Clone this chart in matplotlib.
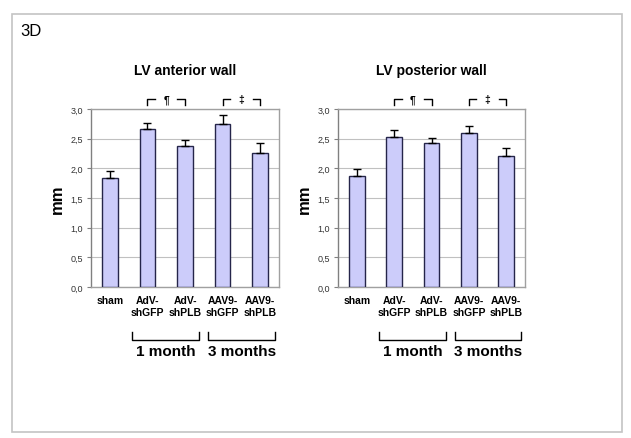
import matplotlib.pyplot as plt
from matplotlib.patches import Rectangle

plt.rcParams['font.family'] = ['Liberation Sans', 'DejaVu Sans']

groups = ['sham', 'AdV-\nshGFP', 'AdV-\nshPLB', 'AAV9-\nshGFP', 'AAV9-\nshPLB']
anterior = [1.83, 2.66, 2.37, 2.74, 2.26]
anterior_err = [0.12, 0.11, 0.11, 0.16, 0.17]
posterior = [1.87, 2.52, 2.43, 2.60, 2.20]
posterior_err = [0.12, 0.12, 0.08, 0.12, 0.14]
yticks = [0.0, 0.5, 1.0, 1.5, 2.0, 2.5, 3.0]
ytick_labels = ['0,0', '0,5', '1,0', '1,5', '2,0', '2,5', '3,0']
periods = ['1 month', '3 months']
sig_marks = ['¶', '‡']

W, H = 631, 439
fig = plt.figure(figsize=(W / 100, H / 100), dpi=100)
fig.patches.append(Rectangle((12 / W, 1 - 433 / H), 610 / W, 418 / H,
                             transform=fig.transFigure, fill=False,
                             edgecolor='#c4c4c4', lw=1.2))
fig.text(20 / W, 1 - 32 / H, '3D', fontsize=12, ha='left', va='center')


def panel(left, width, vals, errs, title):
    ax = fig.add_axes([left / W, 1 - 288 / H, width / W, 178 / H])
    x = list(range(len(groups)))
    ax.bar(x, vals, width=0.42, color='#ccccfa', edgecolor='#25254a', lw=1,
           yerr=[[0] * len(errs), errs], capsize=3,
           error_kw=dict(ecolor='black', elinewidth=1, capthick=1), zorder=3)
    ax.set_xlim(-0.5, 4.5)
    ax.set_ylim(0, 3)
    ax.set_yticks(yticks)
    ax.set_yticklabels(ytick_labels, fontsize=6.5, color='#333333')
    ax.set_xticks(x)
    ax.set_xticklabels(groups, fontsize=7.5, fontweight='bold', linespacing=1.15)
    ax.tick_params(axis='x', length=0, pad=6)
    ax.tick_params(axis='y', length=3, width=0.8, color='#808080', pad=3)
    ax.yaxis.grid(True, color='#c0c0c0', lw=0.8)
    ax.set_axisbelow(True)
    for s in ax.spines.values():
        s.set_color('#a0a0a0')
        s.set_linewidth(1)
    ax.spines['left'].set_color('#808080')
    ax.set_ylabel('mm', fontsize=12, fontweight='bold', labelpad=4)
    ax.set_title(title, fontsize=10, fontweight='bold', pad=25)
    tr = ax.get_xaxis_transform()
    # significance brackets above
    for (a, b), m in zip([(1, 2), (3, 4)], sig_marks):
        mid = (a + b) / 2
        kw = dict(color='black', lw=1, transform=tr, clip_on=False)
        ax.plot([a, a, mid - 0.3], [1.022, 1.056, 1.056], **kw)
        ax.plot([mid + 0.3, b, b], [1.056, 1.056, 1.022], **kw)
        ax.text(mid, 1.056, m, transform=tr, ha='center', va='center',
                fontsize=7.5, fontweight='bold')
    # period brackets below
    for (a, b), lab in zip([(0.6, 2.38), (2.62, 4.4)], periods):
        ax.plot([a, a, b, b], [-0.255, -0.295, -0.295, -0.255], color='black',
                lw=1, transform=tr, clip_on=False)
        ax.text((a + b) / 2, -0.36, lab, transform=tr, ha='center',
                va='center', fontsize=11, fontweight='bold')
    return ax


panel(91, 188, anterior, anterior_err, 'LV anterior wall')
panel(338, 187, posterior, posterior_err, 'LV posterior wall')

fig.savefig('out.png', dpi=100)
